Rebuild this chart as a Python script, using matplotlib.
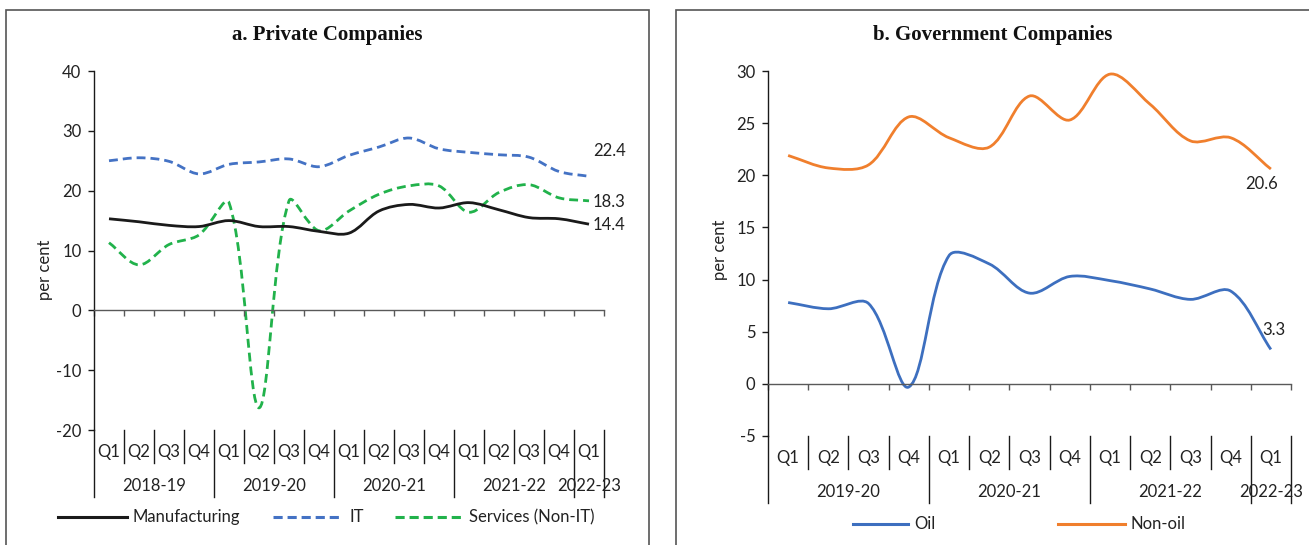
import matplotlib
matplotlib.use("Agg")
import matplotlib.pyplot as plt
import numpy as np
from matplotlib.path import Path
from matplotlib.patches import PathPatch, Rectangle
from matplotlib.lines import Line2D
from matplotlib.transforms import blended_transform_factory

# ---------------- data ----------------
priv_quarters = ["Q1", "Q2", "Q3", "Q4", "Q1", "Q2", "Q3", "Q4", "Q1", "Q2", "Q3", "Q4",
                 "Q1", "Q2", "Q3", "Q4", "Q1"]
priv_years = ["2018-19", "2019-20", "2020-21", "2021-22", "2022-23"]
priv_year_sizes = [4, 4, 4, 4, 1]
manufacturing = [15.3, 14.8, 14.2, 14.0, 15.0, 14.0, 14.0, 13.2, 12.9, 16.6, 17.7, 17.1,
                 18.0, 16.8, 15.5, 15.3, 14.4]
it = [25.0, 25.5, 24.9, 22.8, 24.4, 24.8, 25.3, 24.0, 25.9, 27.3, 28.8, 27.0,
      26.4, 26.0, 25.6, 23.2, 22.4]
services = [11.3, 7.6, 11.0, 12.6, 18.0, -16.3, 18.3, 13.3, 16.6, 19.4, 20.8, 20.8,
            16.4, 19.7, 21.0, 18.8, 18.3]

gov_quarters = ["Q1", "Q2", "Q3", "Q4", "Q1", "Q2", "Q3", "Q4", "Q1", "Q2", "Q3", "Q4", "Q1"]
gov_years = ["2019-20", "2020-21", "2021-22", "2022-23"]
gov_year_sizes = [4, 4, 4, 1]
oil = [7.8, 7.2, 7.7, -0.3, 12.3, 11.5, 8.7, 10.3, 9.9, 9.1, 8.1, 8.9, 3.3]
non_oil = [21.9, 20.7, 21.0, 25.6, 23.6, 22.7, 27.6, 25.3, 29.7, 26.8, 23.3, 23.6, 20.6]

# ---------------- style ----------------
W, H = 1309, 545
TICK_FONT = "Lato"
TITLE_FONT = "Liberation Serif"
C_BLACK = "#1a1a1a"
C_IT = "#4472C4"
C_SERV = "#21B24B"
C_OIL = "#3D6FBF"
C_NONOIL = "#F07F2D"
GRID_C = "#595959"
TXT_C = "#222222"

fig = plt.figure(figsize=(W / 100, H / 100), dpi=100)


def fx(px):
    return px / W


def fy(py):
    return 1 - py / H


def smooth_line(ax, y, color, ls, lw=2.0):
    """Excel-style smoothed line: cubic Bezier segments with chord-weighted tangents."""
    x = np.arange(len(y), dtype=float)
    pts = np.column_stack([x, np.asarray(y, dtype=float)])
    disp = ax.transData.transform(pts)
    n = len(pts)

    def dist(a, b):
        return float(np.hypot(*(disp[a] - disp[b])))

    verts = [pts[0]]
    codes = [Path.MOVETO]
    for i in range(n - 1):
        i0 = max(i - 1, 0)
        i3 = min(i + 2, n - 1)
        p0, p1, p2, p3 = pts[i0], pts[i], pts[i + 1], pts[i3]
        d01, d12, d23 = dist(i0, i), dist(i, i + 1), dist(i + 1, i3)
        s1 = d12 / (d01 + d12) / 3.0 if d01 + d12 > 0 else 0
        s2 = d12 / (d12 + d23) / 3.0 if d12 + d23 > 0 else 0
        c1 = p1 + (p2 - p0) * s1
        c2 = p2 - (p3 - p1) * s2
        verts += [c1, c2, p2]
        codes += [Path.CURVE4] * 3
    patch = PathPatch(Path(verts, codes), facecolor="none", edgecolor=color,
                      linewidth=lw, linestyle=ls, capstyle="butt", joinstyle="round")
    ax.add_patch(patch)


def setup_axes(rect_px, n, ylim, yticks, quarters, years, sizes,
               q_sep_bot, yr_sep_bot, q_lab_y, yr_lab_y):
    l, r, t, b = rect_px
    ax = fig.add_axes([fx(l), fy(b), fx(r) - fx(l), fy(t) - fy(b)])
    ax.set_xlim(-0.5, n - 0.5)
    ax.set_ylim(*ylim)
    for s in ["top", "right"]:
        ax.spines[s].set_visible(False)
    ax.spines["bottom"].set_position(("data", 0))
    ax.spines["left"].set_color(C_BLACK)
    ax.spines["bottom"].set_color(GRID_C)
    ax.spines["left"].set_linewidth(1.0)
    ax.spines["bottom"].set_linewidth(1.0)
    ax.set_yticks(yticks)
    ax.set_yticklabels([str(v) for v in yticks], fontfamily=TICK_FONT, fontsize=12,
                       color=TXT_C)
    ax.tick_params(axis="y", direction="out", length=4, width=1, color=C_BLACK, pad=5)
    ax.set_xticks(np.arange(n + 1) - 0.5)
    ax.set_xticklabels([])
    ax.tick_params(axis="x", direction="out", length=4, width=1, color=GRID_C)
    ax.patch.set_alpha(0)

    tr = blended_transform_factory(ax.transData, fig.transFigure)
    bounds_full = [0]
    acc = 0
    for s in sizes:
        acc += s
        bounds_full.append(acc)
    for i in range(n + 1):
        full = i in bounds_full
        bot = yr_sep_bot if full else q_sep_bot
        ax.add_line(Line2D([i - 0.5, i - 0.5], [fy(b), fy(bot)], transform=tr,
                           color=C_BLACK, lw=1.0, clip_on=False))
    for i, q in enumerate(quarters):
        ax.text(i, fy(q_lab_y), q, transform=tr, ha="center", va="center",
                fontfamily=TICK_FONT, fontsize=12, color=TXT_C)
    for k, yr in enumerate(years):
        c = (bounds_full[k] + bounds_full[k + 1]) / 2 - 0.5
        ax.text(c, fy(yr_lab_y), yr, transform=tr, ha="center", va="center",
                fontfamily=TICK_FONT, fontsize=12, color=TXT_C)
    return ax


def legend_item(x0, x1, y, color, ls, label):
    fig.add_artist(Line2D([fx(x0), fx(x1)], [fy(y), fy(y)], transform=fig.transFigure,
                          color=color, lw=2.2, linestyle=ls))
    fig.text(fx(x1 + 6), fy(y), label, ha="left", va="center",
             fontfamily=TICK_FONT, fontsize=12, color=TXT_C)


# ---------------- panel borders ----------------
fig.add_artist(Rectangle((fx(6), fy(560)), fx(649) - fx(6), fy(10) - fy(560),
                         transform=fig.transFigure, fill=False, edgecolor="#555555", lw=1.2))
fig.add_artist(Rectangle((fx(676), fy(560)), fx(1330) - fx(676), fy(10) - fy(560),
                         transform=fig.transFigure, fill=False, edgecolor="#555555", lw=1.2))

DASH = (0, (3.2, 1.8))

# ---------------- panel a ----------------
axa = setup_axes((94, 604, 71, 430), len(manufacturing), (-20, 40),
                 [-20, -10, 0, 10, 20, 30, 40], priv_quarters, priv_years, priv_year_sizes,
                 q_sep_bot=463, yr_sep_bot=497, q_lab_y=452, yr_lab_y=486)
smooth_line(axa, it, C_IT, DASH)
smooth_line(axa, services, C_SERV, DASH)
smooth_line(axa, manufacturing, C_BLACK, "solid")
fig.text(fx(327), fy(35), "a. Private Companies", ha="center", va="center",
         fontfamily=TITLE_FONT, fontweight="bold", fontsize=15, color="#111111")
fig.text(fx(45), fy(270), "per cent", rotation=90, ha="center", va="center",
         fontfamily=TICK_FONT, fontsize=12, color=TXT_C)
na = len(manufacturing) - 1
axa.annotate(f"{it[-1]}", (na, it[-1]), xytext=(4, 25), textcoords="offset pixels",
             ha="left", va="center", fontfamily=TICK_FONT, fontsize=12, color=TXT_C)
axa.annotate(f"{services[-1]}", (na, services[-1]), xytext=(4, -1), textcoords="offset pixels",
             ha="left", va="center", fontfamily=TICK_FONT, fontsize=12, color=TXT_C)
axa.annotate(f"{manufacturing[-1]}", (na, manufacturing[-1]), xytext=(4, -1),
             textcoords="offset pixels",
             ha="left", va="center", fontfamily=TICK_FONT, fontsize=12, color=TXT_C)

legend_item(58, 127, 517, C_BLACK, "solid", "Manufacturing")
legend_item(273, 343, 517, C_IT, (0, (3.0, 1.6)), "IT")
legend_item(395, 463, 517, C_SERV, (0, (3.0, 1.6)), "Services (Non-IT)")

# ---------------- panel b ----------------
axb = setup_axes((768, 1291, 71, 436), len(oil), (-5, 30),
                 [-5, 0, 5, 10, 15, 20, 25, 30], gov_quarters, gov_years, gov_year_sizes,
                 q_sep_bot=469, yr_sep_bot=503, q_lab_y=458, yr_lab_y=492)
smooth_line(axb, oil, C_OIL, "solid")
smooth_line(axb, non_oil, C_NONOIL, "solid")
fig.text(fx(993), fy(35), "b. Government Companies", ha="center", va="center",
         fontfamily=TITLE_FONT, fontweight="bold", fontsize=15, color="#111111")
fig.text(fx(720), fy(250), "per cent", rotation=90, ha="center", va="center",
         fontfamily=TICK_FONT, fontsize=12, color=TXT_C)
nb = len(oil) - 1
axb.annotate(f"{non_oil[-1]}", (nb, non_oil[-1]), xytext=(-9, -15), textcoords="offset pixels",
             ha="center", va="center", fontfamily=TICK_FONT, fontsize=12, color=TXT_C)
axb.annotate(f"{oil[-1]}", (nb, oil[-1]), xytext=(3, 19), textcoords="offset pixels",
             ha="center", va="center", fontfamily=TICK_FONT, fontsize=12, color=TXT_C)

legend_item(853, 908, 524, C_OIL, "solid", "Oil")
legend_item(1058, 1125, 524, C_NONOIL, "solid", "Non-oil")

fig.savefig("out.png", dpi=100)
